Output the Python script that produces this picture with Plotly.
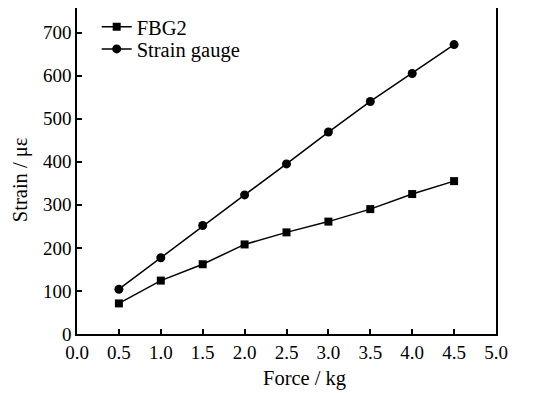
import plotly.graph_objects as go

force = [0.5, 1.0, 1.5, 2.0, 2.5, 3.0, 3.5, 4.0, 4.5]
fbg2 = [71, 124, 162, 208, 236, 261, 290, 325, 355]
gauge = [104, 177, 252, 323, 395, 469, 540, 605, 672]
x_ticks = [0.0, 0.5, 1.0, 1.5, 2.0, 2.5, 3.0, 3.5, 4.0, 4.5, 5.0]
y_ticks = [0, 100, 200, 300, 400, 500, 600, 700]

font = "Liberation Serif"

fig = go.Figure()
fig.add_trace(go.Scatter(x=force, y=fbg2, mode="lines+markers", name="FBG2",
                         line=dict(color="black", width=1.5),
                         marker=dict(symbol="square", size=8, color="black"),
                         legend="legend"))
fig.add_trace(go.Scatter(x=force, y=gauge, mode="lines+markers", name="Strain gauge",
                         line=dict(color="black", width=1.5),
                         marker=dict(symbol="circle", size=9, color="black"),
                         legend="legend2"))

leg_common = dict(x=0.047, xanchor="left", yanchor="middle",
                  bgcolor="rgba(0,0,0,0)", font=dict(family=font, size=20.5),
                  itemwidth=30)

fig.update_layout(
    width=537, height=385,
    margin=dict(l=69, r=49, t=0, b=59, autoexpand=False),
    paper_bgcolor="white", plot_bgcolor="white",
    font=dict(family=font, size=19, color="black"),
    showlegend=True,
    legend=dict(y=0.942, **leg_common),
    legend2=dict(y=0.874, **leg_common),
    annotations=[
        dict(text="Force / kg", xref="paper", yref="paper", x=0.542, y=-0.138,
             xanchor="center", yanchor="middle", showarrow=False,
             font=dict(family=font, size=20.5)),
        dict(text="Strain / με", xref="paper", yref="paper", x=-0.136, y=0.472,
             xanchor="center", yanchor="middle", showarrow=False, textangle=-90,
             font=dict(family=font, size=20.5)),
    ],
)
fig.update_xaxes(range=[0, 5], tickvals=x_ticks, ticktext=[f"{v:.1f}" for v in x_ticks],
                 ticks="inside", ticklen=5, tickwidth=1.5, tickcolor="black",
                 tickfont=dict(family=font, size=19),
                 showline=True, linecolor="black", linewidth=1.5, mirror=True,
                 showgrid=False, zeroline=False, automargin=False)
fig.update_yaxes(range=[0, 757], tickvals=y_ticks,
                 ticks="inside", ticklen=5, tickwidth=1.5, tickcolor="black",
                 tickfont=dict(family=font, size=19),
                 showline=True, linecolor="black", linewidth=1.5, mirror=True,
                 showgrid=False, zeroline=False, automargin=False)

fig.write_html("out.html")
